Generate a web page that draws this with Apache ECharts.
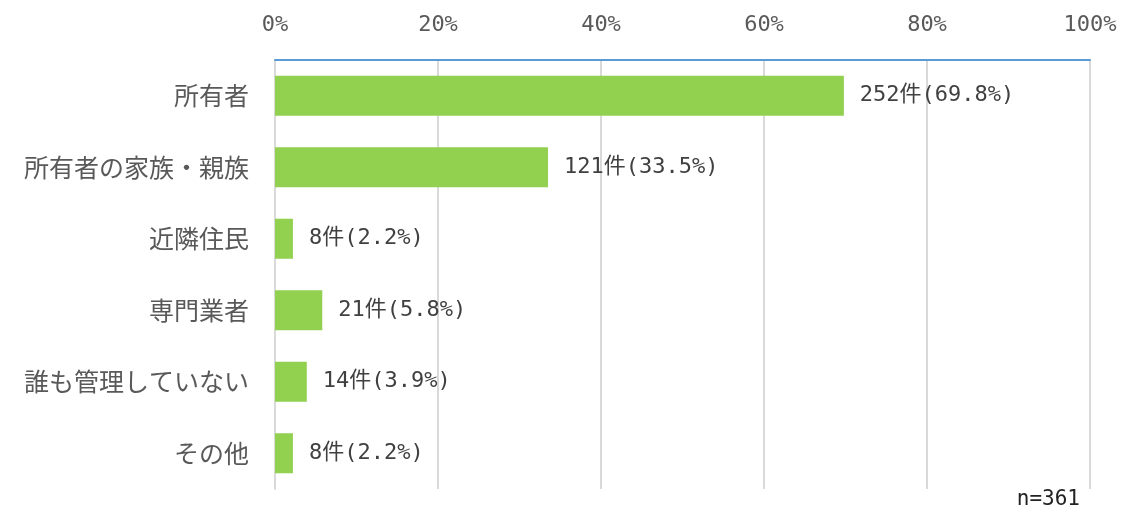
<!DOCTYPE html>
<html>
<head>
<meta charset="utf-8">
<script src="https://cdn.jsdelivr.net/npm/echarts@6/dist/echarts.min.js"></script>
<style>
  html, body { margin: 0; padding: 0; background: #fff; }
  #chart { width: 1126px; height: 511px; }
</style>
</head>
<body>
<div id="chart"></div>
<script>
// Who manages the property (n=361)
const categories = ['所有者', '所有者の家族・親族', '近隣住民', '専門業者', '誰も管理していない', 'その他'];
const counts = [252, 121, 8, 21, 14, 8];
const percents = [69.8, 33.5, 2.2, 5.8, 3.9, 2.2];
const xTicks = [0, 20, 40, 60, 80, 100];
const sampleNote = 'n=361';

const CJK = '"Noto Sans CJK JP", "Noto Sans", sans-serif';
const MONO = '"DejaVu Sans Mono", "Noto Sans CJK JP", monospace';
const TEXT = '#595959';

const chart = echarts.init(document.getElementById('chart'));
chart.setOption({
  animation: false,
  grid: { left: 275, right: 36, top: 60, bottom: 22, containLabel: false },
  xAxis: {
    type: 'value',
    position: 'top',
    min: xTicks[0],
    max: xTicks[xTicks.length - 1],
    interval: xTicks[1] - xTicks[0],
    axisLine: { show: true, lineStyle: { color: '#5B9BD5', width: 2 } },
    axisTick: { show: false },
    axisLabel: { color: TEXT, fontFamily: MONO, fontSize: 22, margin: 24, formatter: '{value}%' },
    splitLine: { show: true, lineStyle: { color: '#D9D9D9', width: 2 } }
  },
  yAxis: {
    type: 'category',
    inverse: true,
    data: categories,
    axisLine: { show: true, lineStyle: { color: '#D9D9D9', width: 2 } },
    axisTick: { show: false },
    axisLabel: { color: TEXT, fontFamily: CJK, fontSize: 25, margin: 26 }
  },
  series: [{
    type: 'bar',
    data: percents,
    barCategoryGap: '44%',
    itemStyle: { color: '#92D050' },
    label: {
      show: true,
      position: 'right',
      distance: 16,
      color: '#404040',
      fontFamily: MONO,
      fontSize: 22,
      formatter: p => counts[p.dataIndex] + '件(' + percents[p.dataIndex].toFixed(1) + '%)'
    }
  }],
  graphic: [{
    type: 'text',
    right: 46,
    top: 489,
    style: { text: sampleNote, fill: '#222', font: '21px ' + MONO }
  }]
});
</script>
</body>
</html>
